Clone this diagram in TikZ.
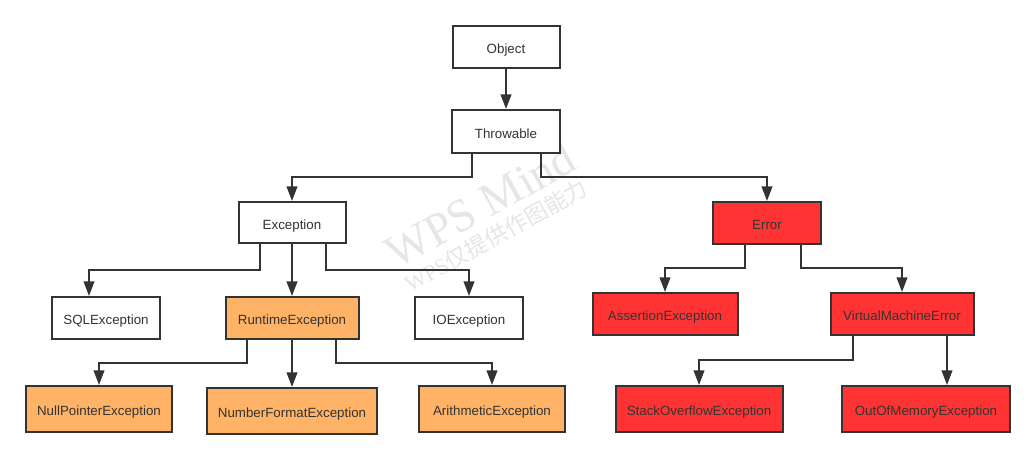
\documentclass[tikz,border=0pt]{standalone}
\usepackage{fontspec}
\setmainfont{Liberation Sans}
\newfontfamily\wmfont{Liberation Serif}
\newfontfamily\cjk{Noto Sans CJK SC}
\usetikzlibrary{arrows.meta}
\definecolor{edge}{HTML}{333333}
\definecolor{orangefill}{HTML}{FFB366}
\definecolor{redfill}{HTML}{FF3333}
\definecolor{wm}{HTML}{E6E6E6}
\begin{document}
\begin{tikzpicture}[x=0.75pt,y=-0.75pt,
  box/.style={draw=edge,line width=1.5pt,rectangle,inner sep=0pt,font=\fontsize{10}{12}\selectfont,text=edge,text height=10.2pt,text depth=0pt},
  plainbox/.style={box,fill=white},
  orangebox/.style={box,fill=orangefill},
  redbox/.style={box,fill=redfill},
  link/.style={draw=edge,line width=1.4pt,-{Triangle[length=11pt,width=8pt]}},
  wmark/.style={text=wm,rotate=29,anchor=base,inner sep=0pt}]
\fill[white] (0,0) rectangle (1035,460);
\useasboundingbox (0,0) rectangle (1035,460);

% watermark
\node[wmark,font=\wmfont\fontsize{35}{40}\selectfont] (wm1) at (488,219) {WPS Mind};
\node[wmark,font=\fontsize{17}{20}\selectfont] (wm2) at (500,243) {\wmfont WPS\cjk 仅提供作图能力};

% nodes
\node[plainbox,minimum width=80.25pt,minimum height=31.5pt] (obj) at (506,47) {Object};
\node[plainbox,minimum width=81pt,minimum height=32.25pt] (thr) at (506,131.5) {Throwable};
\node[plainbox,minimum width=80.25pt,minimum height=30.75pt] (exc) at (292,222.5) {Exception};
\node[redbox,minimum width=81pt,minimum height=31.5pt] (err) at (767,223) {Error};

\node[plainbox,minimum width=81pt,minimum height=31.5pt] (sql) at (106,318) {SQLException};
\node[orangebox,minimum width=99.75pt,minimum height=31.5pt] (rt) at (292,318) {RuntimeException};
\node[plainbox,minimum width=81pt,minimum height=31.5pt] (io) at (469,318) {IOException};

\node[orangebox,minimum width=109.5pt,minimum height=34.5pt] (np) at (99,409) {NullPointerException};
\node[orangebox,minimum width=127.5pt,minimum height=34.5pt] (nf) at (292,411) {NumberFormatException};
\node[orangebox,minimum width=109.5pt,minimum height=34.5pt] (ar) at (492,409) {ArithmeticException};

\node[redbox,minimum width=108.75pt,minimum height=31.5pt] (as) at (665,314) {AssertionException};
\node[redbox,minimum width=107.25pt,minimum height=31.5pt] (vme) at (902,314) {VirtualMachineError};

\node[redbox,minimum width=125.25pt,minimum height=34.5pt] (so) at (699,409) {StackOverflowException};
\node[redbox,minimum width=126pt,minimum height=34.5pt] (oom) at (926,409) {OutOfMemoryException};

% connectors
\draw[link] (obj.south) -- (obj.south |- thr.north);
\draw[link] ([xshift=-25.5pt]thr.south) -- ++(0,23) -| (exc.north);
\draw[link] ([xshift=26.25pt]thr.south) -- ++(0,23) -| (err.north);

\draw[link] ([xshift=-24pt]exc.south) -- ++(0,26) -| ([xshift=-12.75pt]sql.north);
\draw[link] (exc.south) -- (exc.south |- rt.north);
\draw[link] ([xshift=25.5pt]exc.south) -- ++(0,26) -| (io.north);

\draw[link] ([xshift=-33.75pt]rt.south) -- ++(0,23) -| (np.north);
\draw[link] (rt.south) -- (rt.south |- nf.north);
\draw[link] ([xshift=33pt]rt.south) -- ++(0,23) -| (ar.north);

\draw[link] ([xshift=-16.5pt]err.south) -- ++(0,23) -| (as.north);
\draw[link] ([xshift=25.5pt]err.south) -- ++(0,23) -| (vme.north);

\draw[link] ([xshift=-36.75pt]vme.south) -- ++(0,24) -| (so.north);
\coordinate (vmer) at ([xshift=33.75pt]vme.south);
\draw[link] (vmer) -- (vmer |- oom.north);
\end{tikzpicture}
\end{document}
